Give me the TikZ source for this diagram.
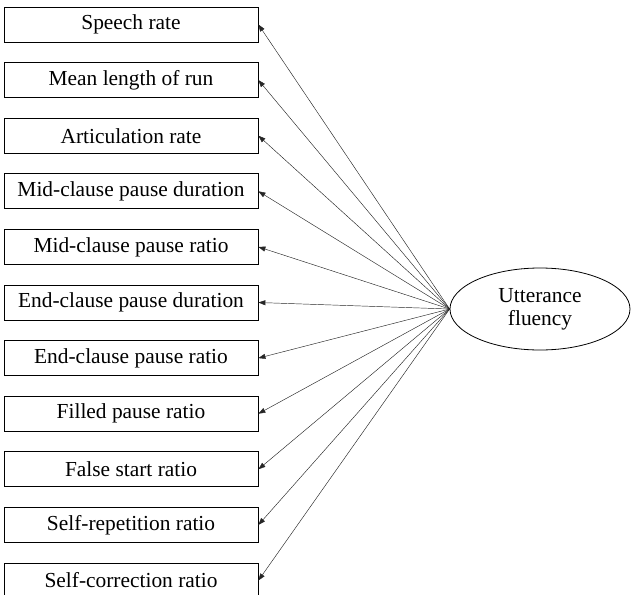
\documentclass[tikz,border=0pt]{standalone}
\usepackage{fontspec}
\setmainfont{Liberation Serif}
\usetikzlibrary{shapes.geometric,arrows.meta}
\begin{document}
\begin{tikzpicture}[x=1pt,y=-1pt,
  ind/.style={draw, line width=0.8pt, minimum width=254pt, minimum height=35pt, inner sep=0pt,
    font=\fontsize{21.4}{25}\selectfont},
  lat/.style={draw, ellipse, line width=0.8pt, minimum width=180pt, minimum height=82pt, inner sep=0pt,
    align=center, font=\fontsize{21.4}{25}\selectfont},
  load/.style={-{Triangle[length=7pt,width=5pt]}, line width=0.45pt, draw=black!85}
]
\useasboundingbox (0,0) rectangle (631,594);
\node[lat] (F) at (540,309) {Utterance\\[-2pt]fluency};
\foreach \t [count=\i from 0] in {Speech rate, Mean length of run, Articulation rate,
  Mid-clause pause duration, Mid-clause pause ratio, End-clause pause duration,
  End-clause pause ratio, Filled pause ratio, False start ratio,
  Self-repetition ratio, Self-correction ratio}{
  \node[ind] (b\i) at (131,{24.5+55.6*\i}) {\t};
  \draw[load] (F.west) -- (b\i.east);
}
\end{tikzpicture}
\end{document}
